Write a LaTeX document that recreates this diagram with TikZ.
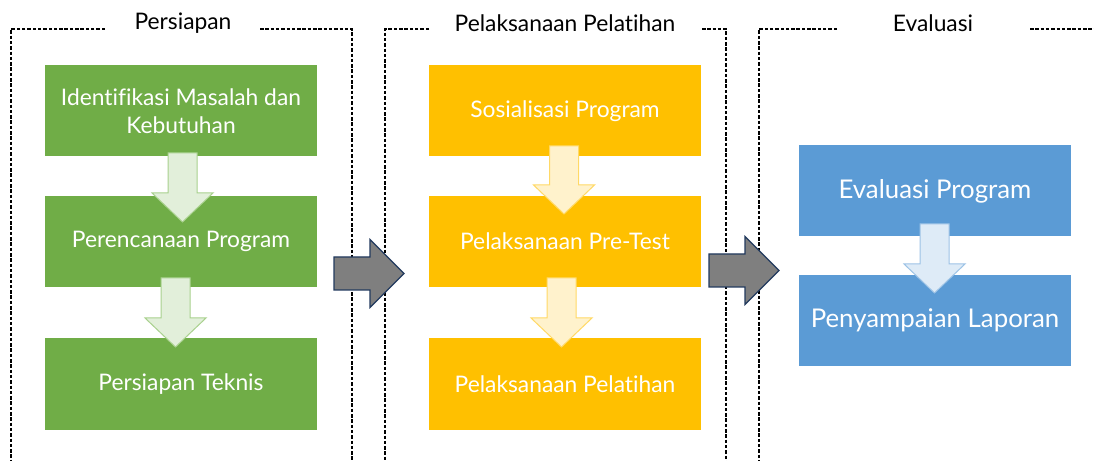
\documentclass[tikz,border=0pt]{standalone}
\usepackage{fontspec}
\setmainfont{Lato}[Ligatures=NoCommon]
\usetikzlibrary{calc}
\definecolor{gfill}{HTML}{70AD47}
\definecolor{garrow}{HTML}{E2EFDA}
\definecolor{gline}{HTML}{A9D18E}
\definecolor{yfill}{HTML}{FFC000}
\definecolor{yarrow}{HTML}{FFF2CC}
\definecolor{yline}{HTML}{FFD966}
\definecolor{bfill}{HTML}{5B9BD5}
\definecolor{barrow}{HTML}{DEEBF7}
\definecolor{bline}{HTML}{9DC3E6}
\definecolor{grayfill}{HTML}{7F7F7F}
\definecolor{navy}{HTML}{223A5E}
\tikzset{
  stepbox/.style={draw=none, inner sep=0pt, minimum width=272bp, minimum height=91bp,
    text=white, font=\fontsize{22.8bp}{28bp}\selectfont, align=center},
  greenbox/.style={stepbox, fill=gfill},
  yellowbox/.style={stepbox, fill=yfill},
  bluebox/.style={stepbox, fill=bfill, font=\fontsize{25.8bp}{30bp}\selectfont},
  frame/.style={draw=black, line width=1.4bp, dash pattern=on 3.5bp off 1.8bp},
  phase/.style={font=\fontsize{22.8bp}{26bp}\selectfont, text=black, inner sep=0pt},
}
% down block arrow: #1 fill, #2 line, #3 centre x, #4 top y, #5 tip y
\newcommand\DownBlk[5]{%
  \filldraw[fill=#1, draw=#2, line width=1bp, line join=miter]
    (#3-14.5,#4) -- (#3+14.5,#4) -- (#3+14.5,#5-29) -- (#3+30.5,#5-29)
    -- (#3,#5) -- (#3-30.5,#5-29) -- (#3-14.5,#5-29) -- cycle;}
% right block arrow: #1 left x, #2 centre y, #3 head base x, #4 tip x
\newcommand\RightBlk[4]{%
  \filldraw[fill=grayfill, draw=navy, line width=1.2bp, line join=miter]
    (#1,#2-16.5) -- (#3,#2-16.5) -- (#3,#2-34) -- (#4,#2)
    -- (#3,#2+34) -- (#3,#2+16.5) -- (#1,#2+16.5) -- cycle;}
\begin{document}
\begin{tikzpicture}[x=1bp,y=-1bp]
\useasboundingbox (0,0) rectangle (1094,461);
\fill[white] (0,0) rectangle (1094,461);
% frames
\draw[frame] (105,29) -- (11,29) -- (11,462);
\draw[frame] (260,29) -- (352,29) -- (352,462);
\draw[frame] (429,29) -- (385,29) -- (385,462);
\draw[frame] (702,29) -- (726,29) -- (726,462);
\draw[frame] (837,29) -- (759,29) -- (759,462);
\draw[frame] (1030,29) -- (1095,29);
% titles
\node[phase] (t1) at (183,23) {Persiapan};
\node[phase] (t2) at (565,23) {Pelaksanaan Pelatihan};
\node[phase] (t3) at (933,23) {Evaluasi};
% boxes
\node[greenbox] (g1) at (181,111) {Identifikasi Masalah dan\\Kebutuhan};
\node[greenbox] (g2) at (181,241.5) {Perencanaan Program};
\node[greenbox] (g3) at (181,384) {Persiapan Teknis};
\node[yellowbox] (y1) at (565,111) {Sosialisasi Program};
\node[yellowbox] (y2) at (565,241.5) {Pelaksanaan Pre-Test};
\node[yellowbox] (y3) at (565,384) {Pelaksanaan Pelatihan};
\node[bluebox] (b1) at (935,191) {Evaluasi Program};
\node[bluebox] (b2) at (935,320.5) {Penyampaian Laporan};
% down arrows
\DownBlk{garrow}{gline}{182.5}{153}{222}
\DownBlk{garrow}{gline}{175.5}{278}{347}
\DownBlk{yarrow}{yline}{564}{146}{214}
\DownBlk{yarrow}{yline}{561.5}{278}{347}
\DownBlk{barrow}{bline}{934.5}{224}{293}
% phase arrows
\RightBlk{334}{273.5}{370}{404}
\RightBlk{709}{270.5}{745}{779}
\end{tikzpicture}
\end{document}
